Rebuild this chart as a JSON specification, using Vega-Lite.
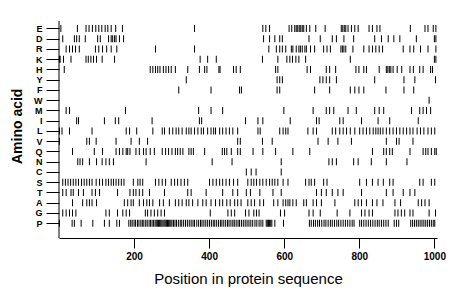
{
 "$schema": "https://vega.github.io/schema/vega-lite/v6.json",
 "width": 378, "height": 217,
 "autosize": "none",
 "padding": {"left": 59, "top": 21, "right": 23, "bottom": 61},
 "background": "white",
 "config": {"view": {"stroke": null}, "font": "Liberation Sans"},
 "datasets": {
  "res": [
{"aa":"E","pos":5},{"aa":"E","pos":49},{"aa":"E","pos":72},{"aa":"E","pos":80},{"aa":"E","pos":89},{"aa":"E","pos":98},{"aa":"E","pos":106},{"aa":"E","pos":114},{"aa":"E","pos":123},{"aa":"E","pos":130},{"aa":"E","pos":139},{"aa":"E","pos":151},{"aa":"E","pos":169},{"aa":"E","pos":361},{"aa":"E","pos":543},{"aa":"E","pos":551},{"aa":"E","pos":561},{"aa":"E","pos":613},{"aa":"E","pos":620},{"aa":"E","pos":628},{"aa":"E","pos":632},{"aa":"E","pos":636},{"aa":"E","pos":640},{"aa":"E","pos":644},{"aa":"E","pos":648},{"aa":"E","pos":652},{"aa":"E","pos":659},{"aa":"E","pos":668},{"aa":"E","pos":684},{"aa":"E","pos":709},{"aa":"E","pos":752},{"aa":"E","pos":756},{"aa":"E","pos":760},{"aa":"E","pos":764},{"aa":"E","pos":770},{"aa":"E","pos":779},{"aa":"E","pos":788},{"aa":"E","pos":797},{"aa":"E","pos":826},{"aa":"E","pos":835},{"aa":"E","pos":847},{"aa":"E","pos":855},{"aa":"E","pos":936},{"aa":"E","pos":975},{"aa":"E","pos":983},{"aa":"E","pos":997},{"aa":"E","pos":1004},
{"aa":"D","pos":10},{"aa":"D","pos":41},{"aa":"D","pos":47},{"aa":"D","pos":54},{"aa":"D","pos":70},{"aa":"D","pos":103},{"aa":"D","pos":110},{"aa":"D","pos":132},{"aa":"D","pos":139},{"aa":"D","pos":143},{"aa":"D","pos":148},{"aa":"D","pos":152},{"aa":"D","pos":161},{"aa":"D","pos":172},{"aa":"D","pos":545},{"aa":"D","pos":561},{"aa":"D","pos":575},{"aa":"D","pos":588},{"aa":"D","pos":595},{"aa":"D","pos":666},{"aa":"D","pos":696},{"aa":"D","pos":728},{"aa":"D","pos":739},{"aa":"D","pos":759},{"aa":"D","pos":785},{"aa":"D","pos":841},{"aa":"D","pos":859},{"aa":"D","pos":877},{"aa":"D","pos":892},{"aa":"D","pos":908},{"aa":"D","pos":952},{"aa":"D","pos":1000},{"aa":"D","pos":1004},
{"aa":"R","pos":19},{"aa":"R","pos":28},{"aa":"R","pos":36},{"aa":"R","pos":44},{"aa":"R","pos":54},{"aa":"R","pos":97},{"aa":"R","pos":106},{"aa":"R","pos":116},{"aa":"R","pos":127},{"aa":"R","pos":139},{"aa":"R","pos":154},{"aa":"R","pos":257},{"aa":"R","pos":361},{"aa":"R","pos":559},{"aa":"R","pos":579},{"aa":"R","pos":588},{"aa":"R","pos":595},{"aa":"R","pos":604},{"aa":"R","pos":619},{"aa":"R","pos":623},{"aa":"R","pos":632},{"aa":"R","pos":639},{"aa":"R","pos":643},{"aa":"R","pos":648},{"aa":"R","pos":655},{"aa":"R","pos":659},{"aa":"R","pos":670},{"aa":"R","pos":681},{"aa":"R","pos":705},{"aa":"R","pos":714},{"aa":"R","pos":723},{"aa":"R","pos":751},{"aa":"R","pos":755},{"aa":"R","pos":759},{"aa":"R","pos":764},{"aa":"R","pos":783},{"aa":"R","pos":812},{"aa":"R","pos":826},{"aa":"R","pos":835},{"aa":"R","pos":844},{"aa":"R","pos":853},{"aa":"R","pos":862},{"aa":"R","pos":917},{"aa":"R","pos":935},{"aa":"R","pos":945},{"aa":"R","pos":963},{"aa":"R","pos":983},{"aa":"R","pos":1004},
{"aa":"K","pos":1},{"aa":"K","pos":3},{"aa":"K","pos":12},{"aa":"K","pos":32},{"aa":"K","pos":72},{"aa":"K","pos":78},{"aa":"K","pos":85},{"aa":"K","pos":92},{"aa":"K","pos":100},{"aa":"K","pos":115},{"aa":"K","pos":148},{"aa":"K","pos":376},{"aa":"K","pos":396},{"aa":"K","pos":419},{"aa":"K","pos":542},{"aa":"K","pos":583},{"aa":"K","pos":607},{"aa":"K","pos":615},{"aa":"K","pos":622},{"aa":"K","pos":631},{"aa":"K","pos":639},{"aa":"K","pos":657},{"aa":"K","pos":776},{"aa":"K","pos":1000},{"aa":"K","pos":1004},
{"aa":"H","pos":14},{"aa":"H","pos":243},{"aa":"H","pos":250},{"aa":"H","pos":257},{"aa":"H","pos":263},{"aa":"H","pos":269},{"aa":"H","pos":278},{"aa":"H","pos":285},{"aa":"H","pos":292},{"aa":"H","pos":299},{"aa":"H","pos":310},{"aa":"H","pos":343},{"aa":"H","pos":374},{"aa":"H","pos":388},{"aa":"H","pos":394},{"aa":"H","pos":426},{"aa":"H","pos":429},{"aa":"H","pos":465},{"aa":"H","pos":472},{"aa":"H","pos":483},{"aa":"H","pos":577},{"aa":"H","pos":583},{"aa":"H","pos":661},{"aa":"H","pos":670},{"aa":"H","pos":712},{"aa":"H","pos":721},{"aa":"H","pos":737},{"aa":"H","pos":791},{"aa":"H","pos":799},{"aa":"H","pos":812},{"aa":"H","pos":819},{"aa":"H","pos":853},{"aa":"H","pos":872},{"aa":"H","pos":876},{"aa":"H","pos":880},{"aa":"H","pos":884},{"aa":"H","pos":890},{"aa":"H","pos":901},{"aa":"H","pos":913},{"aa":"H","pos":935},{"aa":"H","pos":944},{"aa":"H","pos":961},{"aa":"H","pos":970},{"aa":"H","pos":990},{"aa":"H","pos":995},
{"aa":"Y","pos":339},{"aa":"Y","pos":581},{"aa":"Y","pos":588},{"aa":"Y","pos":595},{"aa":"Y","pos":695},{"aa":"Y","pos":703},{"aa":"Y","pos":712},{"aa":"Y","pos":721},{"aa":"Y","pos":739},{"aa":"Y","pos":841},{"aa":"Y","pos":919},{"aa":"Y","pos":948},{"aa":"Y","pos":1003},
{"aa":"F","pos":319},{"aa":"F","pos":405},{"aa":"F","pos":481},{"aa":"F","pos":486},{"aa":"F","pos":581},{"aa":"F","pos":588},{"aa":"F","pos":681},{"aa":"F","pos":721},{"aa":"F","pos":776},{"aa":"F","pos":788},{"aa":"F","pos":799},{"aa":"F","pos":812},{"aa":"F","pos":871},{"aa":"F","pos":919},{"aa":"F","pos":945},
{"aa":"W","pos":986},
{"aa":"M","pos":19},{"aa":"M","pos":28},{"aa":"M","pos":177},{"aa":"M","pos":372},{"aa":"M","pos":405},{"aa":"M","pos":436},{"aa":"M","pos":599},{"aa":"M","pos":677},{"aa":"M","pos":712},{"aa":"M","pos":721},{"aa":"M","pos":732},{"aa":"M","pos":770},{"aa":"M","pos":792},{"aa":"M","pos":841},{"aa":"M","pos":853},{"aa":"M","pos":865},{"aa":"M","pos":939},{"aa":"M","pos":961},{"aa":"M","pos":970},{"aa":"M","pos":979},{"aa":"M","pos":990},
{"aa":"I","pos":47},{"aa":"I","pos":52},{"aa":"I","pos":121},{"aa":"I","pos":150},{"aa":"I","pos":159},{"aa":"I","pos":248},{"aa":"I","pos":374},{"aa":"I","pos":380},{"aa":"I","pos":497},{"aa":"I","pos":530},{"aa":"I","pos":543},{"aa":"I","pos":616},{"aa":"I","pos":686},{"aa":"I","pos":693},{"aa":"I","pos":748},{"aa":"I","pos":757},{"aa":"I","pos":806},{"aa":"I","pos":850},{"aa":"I","pos":881},{"aa":"I","pos":957},
{"aa":"L","pos":1},{"aa":"L","pos":8},{"aa":"L","pos":28},{"aa":"L","pos":88},{"aa":"L","pos":179},{"aa":"L","pos":188},{"aa":"L","pos":207},{"aa":"L","pos":250},{"aa":"L","pos":275},{"aa":"L","pos":281},{"aa":"L","pos":294},{"aa":"L","pos":303},{"aa":"L","pos":312},{"aa":"L","pos":319},{"aa":"L","pos":328},{"aa":"L","pos":339},{"aa":"L","pos":346},{"aa":"L","pos":352},{"aa":"L","pos":361},{"aa":"L","pos":370},{"aa":"L","pos":379},{"aa":"L","pos":385},{"aa":"L","pos":396},{"aa":"L","pos":405},{"aa":"L","pos":412},{"aa":"L","pos":417},{"aa":"L","pos":428},{"aa":"L","pos":436},{"aa":"L","pos":445},{"aa":"L","pos":454},{"aa":"L","pos":463},{"aa":"L","pos":476},{"aa":"L","pos":530},{"aa":"L","pos":536},{"aa":"L","pos":588},{"aa":"L","pos":597},{"aa":"L","pos":604},{"aa":"L","pos":610},{"aa":"L","pos":663},{"aa":"L","pos":677},{"aa":"L","pos":686},{"aa":"L","pos":728},{"aa":"L","pos":737},{"aa":"L","pos":748},{"aa":"L","pos":757},{"aa":"L","pos":766},{"aa":"L","pos":776},{"aa":"L","pos":788},{"aa":"L","pos":801},{"aa":"L","pos":810},{"aa":"L","pos":819},{"aa":"L","pos":828},{"aa":"L","pos":837},{"aa":"L","pos":844},{"aa":"L","pos":850},{"aa":"L","pos":856},{"aa":"L","pos":863},{"aa":"L","pos":872},{"aa":"L","pos":881},{"aa":"L","pos":890},{"aa":"L","pos":899},{"aa":"L","pos":908},{"aa":"L","pos":917},{"aa":"L","pos":926},{"aa":"L","pos":935},{"aa":"L","pos":943},{"aa":"L","pos":954},{"aa":"L","pos":963},{"aa":"L","pos":972},{"aa":"L","pos":983},{"aa":"L","pos":992},{"aa":"L","pos":1001},
{"aa":"V","pos":1},{"aa":"V","pos":74},{"aa":"V","pos":81},{"aa":"V","pos":99},{"aa":"V","pos":152},{"aa":"V","pos":192},{"aa":"V","pos":214},{"aa":"V","pos":236},{"aa":"V","pos":476},{"aa":"V","pos":483},{"aa":"V","pos":542},{"aa":"V","pos":568},{"aa":"V","pos":690},{"aa":"V","pos":717},{"aa":"V","pos":743},{"aa":"V","pos":779},{"aa":"V","pos":872},{"aa":"V","pos":899},{"aa":"V","pos":906},{"aa":"V","pos":943},
{"aa":"Q","pos":36},{"aa":"Q","pos":94},{"aa":"Q","pos":116},{"aa":"Q","pos":152},{"aa":"Q","pos":161},{"aa":"Q","pos":170},{"aa":"Q","pos":179},{"aa":"Q","pos":183},{"aa":"Q","pos":189},{"aa":"Q","pos":205},{"aa":"Q","pos":214},{"aa":"Q","pos":225},{"aa":"Q","pos":232},{"aa":"Q","pos":243},{"aa":"Q","pos":254},{"aa":"Q","pos":275},{"aa":"Q","pos":284},{"aa":"Q","pos":292},{"aa":"Q","pos":301},{"aa":"Q","pos":310},{"aa":"Q","pos":316},{"aa":"Q","pos":323},{"aa":"Q","pos":330},{"aa":"Q","pos":346},{"aa":"Q","pos":352},{"aa":"Q","pos":358},{"aa":"Q","pos":388},{"aa":"Q","pos":435},{"aa":"Q","pos":441},{"aa":"Q","pos":447},{"aa":"Q","pos":459},{"aa":"Q","pos":476},{"aa":"Q","pos":483},{"aa":"Q","pos":517},{"aa":"Q","pos":543},{"aa":"Q","pos":577},{"aa":"Q","pos":623},{"aa":"Q","pos":668},{"aa":"Q","pos":835},{"aa":"Q","pos":865},{"aa":"Q","pos":872},{"aa":"Q","pos":881},{"aa":"Q","pos":888},{"aa":"Q","pos":935},{"aa":"Q","pos":970},{"aa":"Q","pos":977},{"aa":"Q","pos":983},{"aa":"Q","pos":992},{"aa":"Q","pos":1001},{"aa":"Q","pos":1005},
{"aa":"N","pos":50},{"aa":"N","pos":56},{"aa":"N","pos":63},{"aa":"N","pos":81},{"aa":"N","pos":100},{"aa":"N","pos":115},{"aa":"N","pos":125},{"aa":"N","pos":134},{"aa":"N","pos":145},{"aa":"N","pos":232},{"aa":"N","pos":408},{"aa":"N","pos":461},{"aa":"N","pos":592},{"aa":"N","pos":719},{"aa":"N","pos":728},{"aa":"N","pos":739},{"aa":"N","pos":785},{"aa":"N","pos":797},{"aa":"N","pos":832},{"aa":"N","pos":872},{"aa":"N","pos":927},
{"aa":"C","pos":499},{"aa":"C","pos":512},{"aa":"C","pos":525},{"aa":"C","pos":592},
{"aa":"S","pos":10},{"aa":"S","pos":17},{"aa":"S","pos":24},{"aa":"S","pos":31},{"aa":"S","pos":38},{"aa":"S","pos":45},{"aa":"S","pos":52},{"aa":"S","pos":60},{"aa":"S","pos":67},{"aa":"S","pos":74},{"aa":"S","pos":81},{"aa":"S","pos":88},{"aa":"S","pos":99},{"aa":"S","pos":108},{"aa":"S","pos":116},{"aa":"S","pos":125},{"aa":"S","pos":132},{"aa":"S","pos":139},{"aa":"S","pos":145},{"aa":"S","pos":152},{"aa":"S","pos":159},{"aa":"S","pos":166},{"aa":"S","pos":173},{"aa":"S","pos":198},{"aa":"S","pos":210},{"aa":"S","pos":216},{"aa":"S","pos":223},{"aa":"S","pos":257},{"aa":"S","pos":266},{"aa":"S","pos":275},{"aa":"S","pos":284},{"aa":"S","pos":299},{"aa":"S","pos":308},{"aa":"S","pos":316},{"aa":"S","pos":325},{"aa":"S","pos":334},{"aa":"S","pos":343},{"aa":"S","pos":401},{"aa":"S","pos":410},{"aa":"S","pos":419},{"aa":"S","pos":428},{"aa":"S","pos":436},{"aa":"S","pos":445},{"aa":"S","pos":454},{"aa":"S","pos":465},{"aa":"S","pos":476},{"aa":"S","pos":503},{"aa":"S","pos":512},{"aa":"S","pos":519},{"aa":"S","pos":526},{"aa":"S","pos":535},{"aa":"S","pos":543},{"aa":"S","pos":552},{"aa":"S","pos":561},{"aa":"S","pos":568},{"aa":"S","pos":575},{"aa":"S","pos":583},{"aa":"S","pos":597},{"aa":"S","pos":610},{"aa":"S","pos":657},{"aa":"S","pos":666},{"aa":"S","pos":672},{"aa":"S","pos":681},{"aa":"S","pos":705},{"aa":"S","pos":714},{"aa":"S","pos":801},{"aa":"S","pos":819},{"aa":"S","pos":835},{"aa":"S","pos":850},{"aa":"S","pos":864},{"aa":"S","pos":881},{"aa":"S","pos":890},{"aa":"S","pos":961},{"aa":"S","pos":970},{"aa":"S","pos":992},{"aa":"S","pos":1001},
{"aa":"T","pos":10},{"aa":"T","pos":19},{"aa":"T","pos":32},{"aa":"T","pos":38},{"aa":"T","pos":52},{"aa":"T","pos":65},{"aa":"T","pos":88},{"aa":"T","pos":97},{"aa":"T","pos":108},{"aa":"T","pos":156},{"aa":"T","pos":189},{"aa":"T","pos":198},{"aa":"T","pos":205},{"aa":"T","pos":214},{"aa":"T","pos":223},{"aa":"T","pos":241},{"aa":"T","pos":281},{"aa":"T","pos":343},{"aa":"T","pos":352},{"aa":"T","pos":392},{"aa":"T","pos":436},{"aa":"T","pos":463},{"aa":"T","pos":476},{"aa":"T","pos":499},{"aa":"T","pos":510},{"aa":"T","pos":535},{"aa":"T","pos":570},{"aa":"T","pos":592},{"aa":"T","pos":686},{"aa":"T","pos":699},{"aa":"T","pos":712},{"aa":"T","pos":728},{"aa":"T","pos":743},{"aa":"T","pos":757},{"aa":"T","pos":806},{"aa":"T","pos":872},{"aa":"T","pos":890},{"aa":"T","pos":917},{"aa":"T","pos":935},{"aa":"T","pos":948},
{"aa":"A","pos":36},{"aa":"A","pos":63},{"aa":"A","pos":74},{"aa":"A","pos":81},{"aa":"A","pos":88},{"aa":"A","pos":100},{"aa":"A","pos":174},{"aa":"A","pos":183},{"aa":"A","pos":192},{"aa":"A","pos":198},{"aa":"A","pos":214},{"aa":"A","pos":225},{"aa":"A","pos":234},{"aa":"A","pos":241},{"aa":"A","pos":250},{"aa":"A","pos":268},{"aa":"A","pos":278},{"aa":"A","pos":294},{"aa":"A","pos":310},{"aa":"A","pos":319},{"aa":"A","pos":328},{"aa":"A","pos":339},{"aa":"A","pos":346},{"aa":"A","pos":356},{"aa":"A","pos":370},{"aa":"A","pos":383},{"aa":"A","pos":392},{"aa":"A","pos":405},{"aa":"A","pos":417},{"aa":"A","pos":428},{"aa":"A","pos":436},{"aa":"A","pos":447},{"aa":"A","pos":456},{"aa":"A","pos":468},{"aa":"A","pos":476},{"aa":"A","pos":485},{"aa":"A","pos":503},{"aa":"A","pos":512},{"aa":"A","pos":521},{"aa":"A","pos":535},{"aa":"A","pos":545},{"aa":"A","pos":572},{"aa":"A","pos":583},{"aa":"A","pos":597},{"aa":"A","pos":604},{"aa":"A","pos":610},{"aa":"A","pos":615},{"aa":"A","pos":623},{"aa":"A","pos":632},{"aa":"A","pos":652},{"aa":"A","pos":659},{"aa":"A","pos":677},{"aa":"A","pos":686},{"aa":"A","pos":699},{"aa":"A","pos":735},{"aa":"A","pos":788},{"aa":"A","pos":797},{"aa":"A","pos":806},{"aa":"A","pos":819},{"aa":"A","pos":835},{"aa":"A","pos":847},{"aa":"A","pos":863},{"aa":"A","pos":895},{"aa":"A","pos":910},{"aa":"A","pos":957},{"aa":"A","pos":966},{"aa":"A","pos":975},{"aa":"A","pos":986},
{"aa":"G","pos":10},{"aa":"G","pos":19},{"aa":"G","pos":28},{"aa":"G","pos":36},{"aa":"G","pos":45},{"aa":"G","pos":125},{"aa":"G","pos":134},{"aa":"G","pos":156},{"aa":"G","pos":170},{"aa":"G","pos":179},{"aa":"G","pos":188},{"aa":"G","pos":230},{"aa":"G","pos":236},{"aa":"G","pos":245},{"aa":"G","pos":254},{"aa":"G","pos":263},{"aa":"G","pos":272},{"aa":"G","pos":281},{"aa":"G","pos":403},{"aa":"G","pos":450},{"aa":"G","pos":459},{"aa":"G","pos":468},{"aa":"G","pos":497},{"aa":"G","pos":506},{"aa":"G","pos":519},{"aa":"G","pos":526},{"aa":"G","pos":533},{"aa":"G","pos":590},{"aa":"G","pos":601},{"aa":"G","pos":666},{"aa":"G","pos":677},{"aa":"G","pos":696},{"aa":"G","pos":741},{"aa":"G","pos":775},{"aa":"G","pos":806},{"aa":"G","pos":815},{"aa":"G","pos":826},{"aa":"G","pos":835},{"aa":"G","pos":895},{"aa":"G","pos":903},{"aa":"G","pos":912},{"aa":"G","pos":921},{"aa":"G","pos":935},{"aa":"G","pos":943},{"aa":"G","pos":986},{"aa":"G","pos":1003},
{"aa":"P","pos":1},{"aa":"P","pos":35},{"aa":"P","pos":41},{"aa":"P","pos":59},{"aa":"P","pos":90},{"aa":"P","pos":121},{"aa":"P","pos":134},{"aa":"P","pos":154},{"aa":"P","pos":161},{"aa":"P","pos":186},{"aa":"P","pos":191},{"aa":"P","pos":195},{"aa":"P","pos":200},{"aa":"P","pos":204},{"aa":"P","pos":209},{"aa":"P","pos":213},{"aa":"P","pos":218},{"aa":"P","pos":222},{"aa":"P","pos":226},{"aa":"P","pos":231},{"aa":"P","pos":235},{"aa":"P","pos":240},{"aa":"P","pos":244},{"aa":"P","pos":248},{"aa":"P","pos":252},{"aa":"P","pos":256},{"aa":"P","pos":259},{"aa":"P","pos":262},{"aa":"P","pos":265},{"aa":"P","pos":268},{"aa":"P","pos":271},{"aa":"P","pos":274},{"aa":"P","pos":277},{"aa":"P","pos":280},{"aa":"P","pos":283},{"aa":"P","pos":286},{"aa":"P","pos":289},{"aa":"P","pos":292},{"aa":"P","pos":295},{"aa":"P","pos":298},{"aa":"P","pos":301},{"aa":"P","pos":305},{"aa":"P","pos":309},{"aa":"P","pos":313},{"aa":"P","pos":318},{"aa":"P","pos":323},{"aa":"P","pos":327},{"aa":"P","pos":332},{"aa":"P","pos":337},{"aa":"P","pos":342},{"aa":"P","pos":347},{"aa":"P","pos":352},{"aa":"P","pos":357},{"aa":"P","pos":361},{"aa":"P","pos":367},{"aa":"P","pos":372},{"aa":"P","pos":377},{"aa":"P","pos":381},{"aa":"P","pos":386},{"aa":"P","pos":391},{"aa":"P","pos":396},{"aa":"P","pos":401},{"aa":"P","pos":406},{"aa":"P","pos":411},{"aa":"P","pos":415},{"aa":"P","pos":420},{"aa":"P","pos":425},{"aa":"P","pos":430},{"aa":"P","pos":434},{"aa":"P","pos":439},{"aa":"P","pos":444},{"aa":"P","pos":449},{"aa":"P","pos":453},{"aa":"P","pos":458},{"aa":"P","pos":463},{"aa":"P","pos":467},{"aa":"P","pos":472},{"aa":"P","pos":477},{"aa":"P","pos":481},{"aa":"P","pos":486},{"aa":"P","pos":491},{"aa":"P","pos":496},{"aa":"P","pos":501},{"aa":"P","pos":506},{"aa":"P","pos":511},{"aa":"P","pos":516},{"aa":"P","pos":522},{"aa":"P","pos":527},{"aa":"P","pos":533},{"aa":"P","pos":538},{"aa":"P","pos":543},{"aa":"P","pos":552},{"aa":"P","pos":555},{"aa":"P","pos":558},{"aa":"P","pos":561},{"aa":"P","pos":564},{"aa":"P","pos":567},{"aa":"P","pos":575},{"aa":"P","pos":598},{"aa":"P","pos":667},{"aa":"P","pos":672},{"aa":"P","pos":678},{"aa":"P","pos":683},{"aa":"P","pos":689},{"aa":"P","pos":694},{"aa":"P","pos":700},{"aa":"P","pos":706},{"aa":"P","pos":711},{"aa":"P","pos":717},{"aa":"P","pos":723},{"aa":"P","pos":728},{"aa":"P","pos":734},{"aa":"P","pos":740},{"aa":"P","pos":745},{"aa":"P","pos":751},{"aa":"P","pos":757},{"aa":"P","pos":763},{"aa":"P","pos":769},{"aa":"P","pos":775},{"aa":"P","pos":781},{"aa":"P","pos":786},{"aa":"P","pos":801},{"aa":"P","pos":806},{"aa":"P","pos":812},{"aa":"P","pos":818},{"aa":"P","pos":824},{"aa":"P","pos":830},{"aa":"P","pos":836},{"aa":"P","pos":842},{"aa":"P","pos":848},{"aa":"P","pos":853},{"aa":"P","pos":859},{"aa":"P","pos":865},{"aa":"P","pos":871},{"aa":"P","pos":877},{"aa":"P","pos":893},{"aa":"P","pos":899},{"aa":"P","pos":905},{"aa":"P","pos":937},{"aa":"P","pos":942},{"aa":"P","pos":947},{"aa":"P","pos":952},{"aa":"P","pos":957},{"aa":"P","pos":962},{"aa":"P","pos":967},{"aa":"P","pos":972},{"aa":"P","pos":977},{"aa":"P","pos":982},{"aa":"P","pos":987},{"aa":"P","pos":992},{"aa":"P","pos":997},{"aa":"P","pos":1001}
  ],
  "axisline": [{"pos": 0}]
 },
 "layer": [
  {
   "data": {"name": "axisline"},
   "mark": {"type": "rule", "color": "black", "strokeWidth": 1},
   "encoding": {"x": {"field": "pos", "type": "quantitative"}}
  },
  {
   "data": {"name": "res"},
   "mark": {"type": "tick", "orient": "vertical", "color": "black", "thickness": 1, "size": 7, "opacity": 1},
   "encoding": {
    "x": {"field": "pos", "type": "quantitative",
      "scale": {"domain": [0, 1007], "nice": false, "zero": false},
      "axis": {"values": [200, 400, 600, 800, 1000], "format": "d", "grid": false, "tickSize": 10, "tickColor": "black", "domainColor": "black",
        "labelFontSize": 10, "labelFontWeight": "bold", "labelColor": "black", "labelPadding": 3, "labelFlush": false,
        "title": "Position in protein sequence", "titleFontSize": 15, "titleFontWeight": "normal", "titleColor": "black", "titlePadding": 10}},
    "y": {"field": "aa", "type": "nominal",
      "sort": ["E","D","R","K","H","Y","F","W","M","I","L","V","Q","N","C","S","T","A","G","P"],
      "scale": {"type": "point", "range": [2.3, 207.3]},
      "axis": {"domain": false, "grid": false, "tickSize": 13, "tickColor": "black", "labelFontSize": 9, "labelFontWeight": "bold", "labelColor": "black", "labelPadding": 4,
        "title": "Amino acid", "titleFontSize": 14, "titleFontWeight": "bold", "titleColor": "black", "titlePadding": 9}}
   }
  }
 ]
}
